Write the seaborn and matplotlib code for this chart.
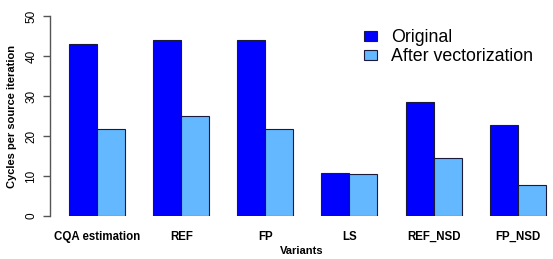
import matplotlib
matplotlib.use("Agg")
import matplotlib.pyplot as plt
import seaborn as sns
import pandas as pd

variants = ["CQA estimation", "REF", "FP", "LS", "REF_NSD", "FP_NSD"]
original = [43.1, 43.9, 43.9, 10.7, 28.6, 22.8]
vectorized = [21.8, 24.9, 21.8, 10.6, 14.6, 7.7]
versions = ["Original", "After vectorization"]
colors = ["#0000FF", "#63B8FF"]

df = pd.DataFrame({
    "Variants": variants * 2,
    "Cycles": original + vectorized,
    "Version": [versions[0]] * len(variants) + [versions[1]] * len(variants),
})

sns.set_style("white")
plt.rcParams['font.family'] = ['Liberation Sans', 'DejaVu Sans']
plt.rcParams['text.color'] = 'black'
plt.rcParams['axes.labelcolor'] = 'black'
plt.rcParams['xtick.color'] = 'black'
plt.rcParams['ytick.color'] = 'black'

fig = plt.figure(figsize=(5.53, 2.59), dpi=100)
ax = fig.add_axes([50 / 553, 43 / 259, 503 / 553, 200 / 259])

sns.barplot(data=df, x="Variants", y="Cycles", hue="Version", palette=colors,
            saturation=1, width=2 / 3, gap=0, edgecolor="#1a1a3a",
            linewidth=0.8, ax=ax)

ax.set_xlim(-0.56, 5.42)
ax.set_ylim(0, 50)
ax.set_yticks([0, 10, 20, 30, 40, 50])
for s in ["top", "right", "bottom"]:
    ax.spines[s].set_visible(False)
ax.spines["left"].set_color("#555555")
ax.spines["left"].set_linewidth(1.0)

ax.tick_params(axis="y", left=True, length=5, width=1, color="#555555",
               labelsize=8.5, pad=4)
for t in ax.get_yticklabels():
    t.set_rotation(90)
    t.set_va("center")
ax.tick_params(axis="x", length=0, labelsize=8.3, pad=11)
for t in ax.get_xticklabels():
    t.set_fontweight("bold")

ax.set_xlabel("Variants", fontsize=8, fontweight="bold", labelpad=2)
ax.set_ylabel("Cycles per source iteration", fontsize=8, fontweight="bold", labelpad=6)

ax.legend(loc="upper left", bbox_to_anchor=(0.61, 0.97), frameon=False,
          fontsize=12.8, handlelength=0.72, handleheight=0.52, handletextpad=0.8,
          labelspacing=0.12, borderaxespad=0)

plt.savefig("out.png", dpi=100)
